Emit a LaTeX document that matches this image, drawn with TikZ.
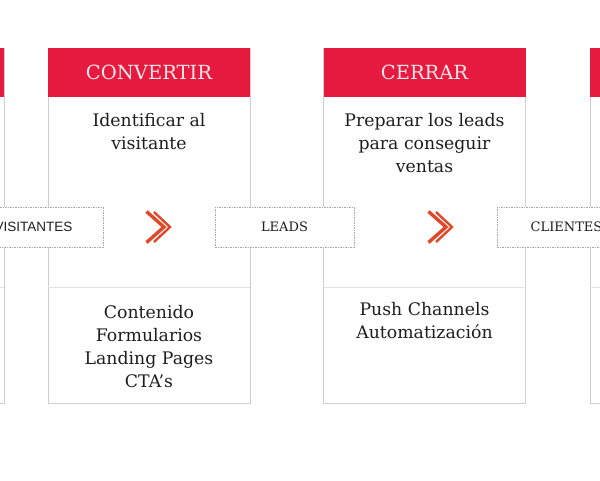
\documentclass[tikz,border=0pt]{standalone}
\usepackage{fontspec}
\setmainfont{DejaVu Serif}
\setsansfont{Liberation Sans}
\usepackage{xcolor}
\usepackage{tikz}
\usetikzlibrary{positioning,calc}
\definecolor{headcol}{HTML}{E6193F}
\definecolor{headtxt}{HTML}{FDE6EA}
\definecolor{linecol}{HTML}{D6CBCE}
\definecolor{sepcol}{HTML}{E2E0E0}
\definecolor{dotcol}{HTML}{A8A8A8}
\definecolor{chevcol}{HTML}{E0482A}
\definecolor{txtcol}{HTML}{1E1E1E}

\begin{document}
\begin{tikzpicture}[x=1pt,y=-1pt,
  stage/.style={draw=linecol,line width=0.8pt,fill=white,minimum width=202pt,inner sep=0pt},
  head/.style={fill=headcol,minimum width=202pt,minimum height=49pt,inner sep=0pt},
  headtext/.style={text=headtxt,font=\fontsize{19.5}{22}\selectfont},
  txt/.style={align=center,text=txtcol,font=\fontsize{17.3}{23}\selectfont},
  lbl/.style={draw=dotcol,line width=0.6pt,dash pattern=on 1.5pt off 1pt,fill=white,minimum width=139pt,minimum height=40pt,text=txtcol,font=\fontsize{13}{15}\selectfont},
  chev/.style={draw=chevcol,line width=3.4pt,line join=miter}]
  \useasboundingbox (0,0) rectangle (600,480);
  % columns
  \foreach \name/\cx in {atr/-97,conv/149,cerr/424.5,del/691}{
    \node[stage,minimum height=355pt] (\name box) at (\cx,225.5) {};
    \node[head,anchor=north] (\name head) at (\name box.north) {};
    \draw[sepcol,line width=0.8pt] (\name box.west |- 0,287) -- (\name box.east |- 0,287);
  }
  \node[headtext] (convt) at (convhead) {CONVERTIR};
  \node[headtext] (cerrt) at (cerrhead) {CERRAR};
  \node[txt,below=13pt of convhead] (convtop) {Identificar al\\visitante};
  \node[txt,below=13pt of cerrhead] (cerrtop) {Preparar los leads\\para conseguir\\ventas};
  \node[txt,anchor=north] (convbot) at ([yshift=-15pt]convbox.center |- 0,287) {Contenido\\Formularios\\Landing Pages\\CTA’s};
  \node[txt,anchor=north] (cerrbot) at ([yshift=-12pt]cerrbox.center |- 0,287) {Push Channels\\Automatización};
  % stage labels
  \node[lbl,font=\sffamily\fontsize{13.5}{15}\selectfont] (visit) at (33.5,227) {VISITANTES};
  \node[lbl] (leads) at (284.5,227) {LEADS};
  \node[lbl] (clients) at (566.5,227) {CLIENTES};
  % chevrons
  \foreach \cx in {158,440}{
    \draw[chev] (\cx-11.5,211.5) -- (\cx+6,227) -- (\cx-11.5,242.5);
    \draw[chev,line width=2.4pt] (\cx-4,212) -- (\cx+12,227) -- (\cx-4,242);
  }
\end{tikzpicture}
\end{document}
